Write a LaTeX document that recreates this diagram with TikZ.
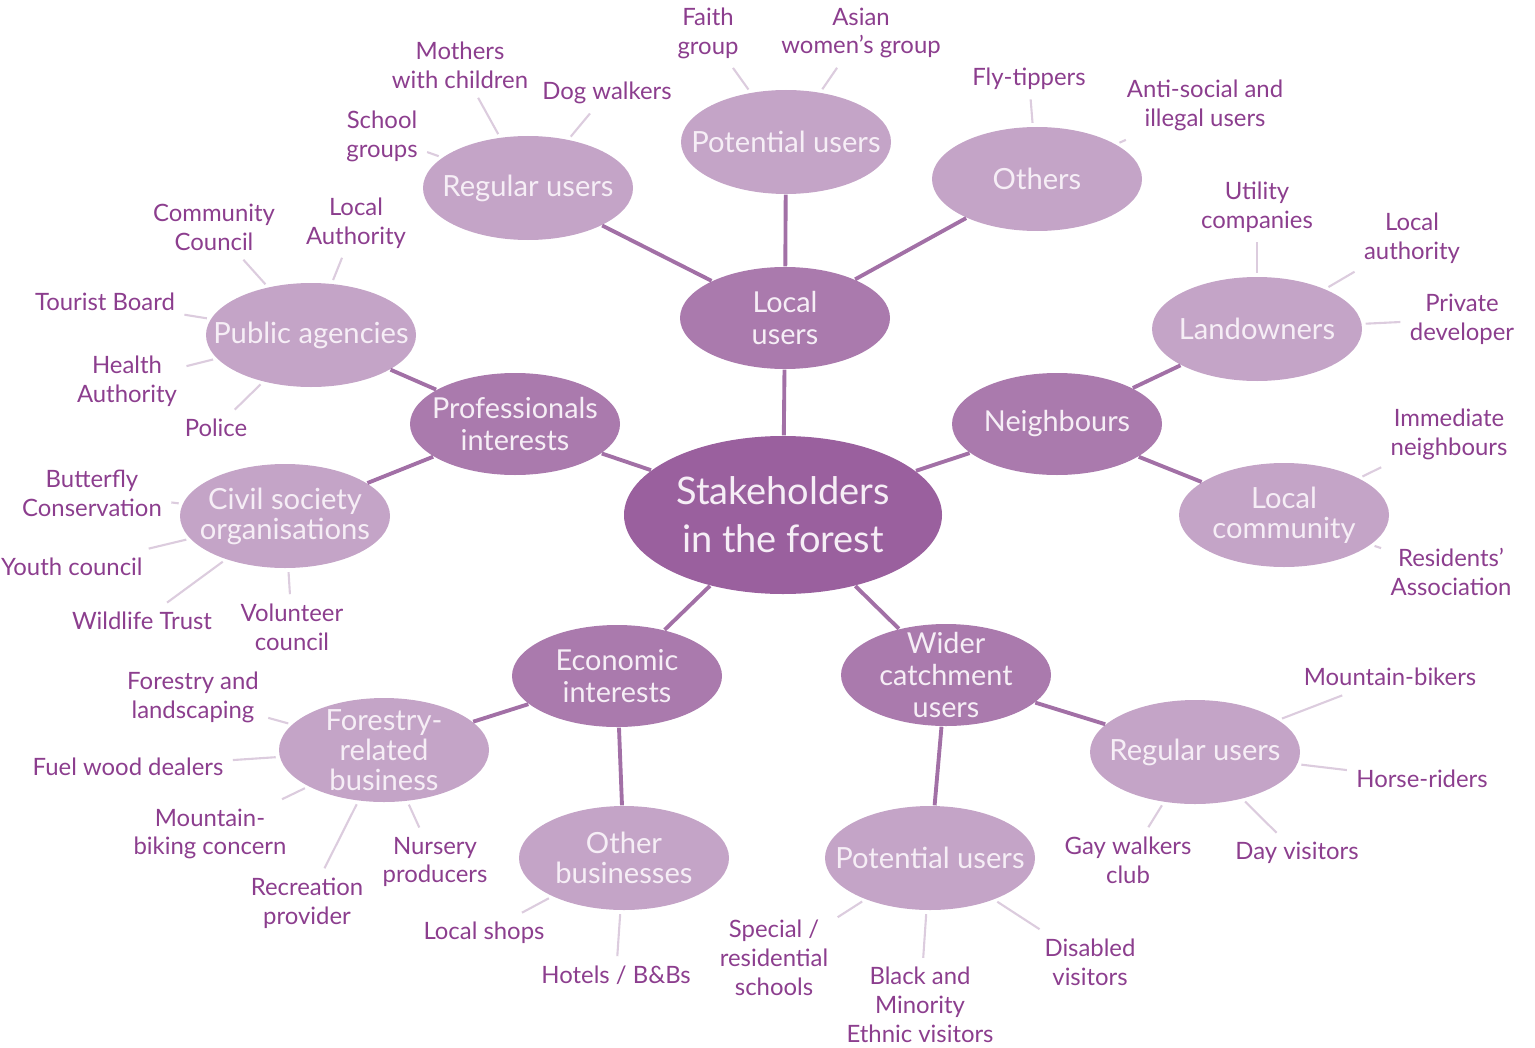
\documentclass[tikz,border=0pt]{standalone}
\usepackage{fontspec}
\setmainfont{Lato}
\usepackage{tikz}
\usetikzlibrary{shapes.geometric}
\definecolor{centrefill}{RGB}{154,96,158}
\definecolor{midfill}{RGB}{170,122,173}
\definecolor{outerfill}{RGB}{196,164,199}
\definecolor{linkcol}{RGB}{162,112,166}
\definecolor{leadcol}{RGB}{220,204,222}
\definecolor{labcol}{RGB}{140,62,142}
\definecolor{inktext}{RGB}{246,238,246}
\tikzset{
  hub/.style={ellipse,fill=centrefill,text=inktext,minimum width=31.8mm,minimum height=15.8mm,inner xsep=-3mm,inner ysep=-1.5mm,align=center,font=\fontsize{10.8}{13.6}\selectfont},
  group/.style={ellipse,fill=midfill,text=inktext,minimum width=21mm,minimum height=10.2mm,inner xsep=-3mm,inner ysep=-1.5mm,align=center,font=\fontsize{8.2}{9}\selectfont},
  sub/.style={ellipse,fill=outerfill,text=inktext,minimum width=21mm,minimum height=10.4mm,inner xsep=-3mm,inner ysep=-1.5mm,align=center,font=\fontsize{8.3}{8.5}\selectfont},
  who/.style={text=labcol,align=center,inner sep=2.5pt,font=\fontsize{6.8}{8.2}\selectfont},
  link/.style={linkcol,line width=1.1pt},
  leader/.style={leadcol,line width=0.6pt,shorten <=1pt}
}
\begin{document}
\begin{tikzpicture}[x=0.1mm,y=-0.1mm]
    \useasboundingbox (0,0) rectangle (1535,1047);
    % centre and first ring
    \node[hub] (stake) at (783,515) {Stakeholders\\in the forest};
    \node[group] (local) at (785,318) {Local\\users};
    \node[group] (prof) at (515,424) {Professionals\\interests};
    \node[group] (neigh) at (1057,424) {Neighbours};
    \node[group] (econ) at (617,676) {Economic\\interests};
    \node[group] (wider) at (946,675) {Wider\\catchment\\users};
    % second ring
    \node[sub] (regA) at (528,188) {Regular users};
    \node[sub] (potA) at (786,142) {Potential users};
    \node[sub] (others) at (1037,179) {Others};
    \node[sub] (public) at (311,335) {Public agencies};
    \node[sub] (landown) at (1257,329) {Landowners};
    \node[sub] (civil) at (285,516) {Civil society\\organisations};
    \node[sub] (commun) at (1284,515) {Local\\community};
    \node[sub] (forbus) at (384,750) {Forestry-\\related\\business};
    \node[sub] (otherbus) at (624,858) {Other\\businesses};
    \node[sub] (potB) at (930,858) {Potential users};
    \node[sub] (regB) at (1195,752) {Regular users};
    \foreach \a/\b in {stake/local,stake/prof,stake/neigh,stake/econ,stake/wider,
        local/regA,local/potA,local/others,prof/public,prof/civil,
        neigh/landown,neigh/commun,econ/forbus,econ/otherbus,wider/potB,wider/regB}
      \draw[link] (\a) -- (\b);
    % outer labels
    \node[who] (school) at (382,136) {School\\groups};
    \node[who] (mothers) at (460,65) {Mothers\\with children};
    \node[who] (dogs) at (607,93) {Dog walkers};
    \node[who] (faith) at (708,33) {Faith\\group};
    \node[who] (asian) at (861,33) {Asian\\women's group};
    \node[who] (fly) at (1029,79) {Fly-tippers};
    \node[who] (antisoc) at (1205,105) {Anti-social and\\illegal users};
    \node[who] (commc) at (214,227) {Community\\Council};
    \node[who] (locauth) at (356,223) {Local\\Authority};
    \node[who] (tourist) at (105,302) {Tourist Board};
    \node[who] (health) at (127,381) {Health\\Authority};
    \node[who] (police) at (216,428) {Police};
    \node[who] (utility) at (1257,207) {Utility\\companies};
    \node[who] (localauth) at (1412,238) {Local\\authority};
    \node[who] (private) at (1462,319) {Private\\developer};
    \node[who] (butterfly) at (92,493) {Butterfly\\Conservation};
    \node[who,anchor=east] (youth) at (152,567) {Youth council};
    \node[who] (wildlife) at (142,621) {Wildlife Trust};
    \node[who] (volunteer) at (292,627) {Volunteer\\council};
    \node[who] (immediate) at (1449,434) {Immediate\\neighbours};
    \node[who] (residents) at (1451,572) {Residents'\\Association};
    \node[who] (forland) at (193,697) {Forestry and\\landscaping};
    \node[who] (fuel) at (128,767) {Fuel wood dealers};
    \node[who] (mtbiking) at (210,834) {Mountain-\\biking concern};
    \node[who] (recreation) at (307,903) {Recreation\\provider};
    \node[who] (nursery) at (435,862) {Nursery\\producers};
    \node[who] (shops) at (484,933) {Local shops};
    \node[who] (hotels) at (616,975) {Hotels / B\&Bs};
    \node[who] (special) at (774,958) {Special /\\residential\\schools};
    \node[who] (bme) at (920,1005) {Black and\\Minority\\Ethnic visitors};
    \node[who] (disabled) at (1090,962) {Disabled\\visitors};
    \node[who] (mtbikers) at (1390,677) {Mountain-bikers};
    \node[who] (horse) at (1422,779) {Horse-riders};
    \node[who] (gay) at (1128,860) {Gay walkers\\club};
    \node[who] (day) at (1297,853) {Day visitors};
    \foreach \a/\b in {regA/school,regA/mothers,regA/dogs,potA/faith,potA/asian,
        others/fly,others/antisoc,public/commc,public/locauth,public/tourist,
        public/health,public/police,landown/utility,landown/localauth,landown/private,
        civil/butterfly,civil/youth,civil/wildlife,civil/volunteer,
        commun/immediate,commun/residents,forbus/forland,forbus/fuel,forbus/mtbiking,
        forbus/recreation,forbus/nursery,otherbus/shops,otherbus/hotels,
        potB/special,potB/bme,potB/disabled,regB/mtbikers,regB/horse,regB/gay,regB/day}
      \draw[leader] (\a) -- (\b);
\end{tikzpicture}
\end{document}
